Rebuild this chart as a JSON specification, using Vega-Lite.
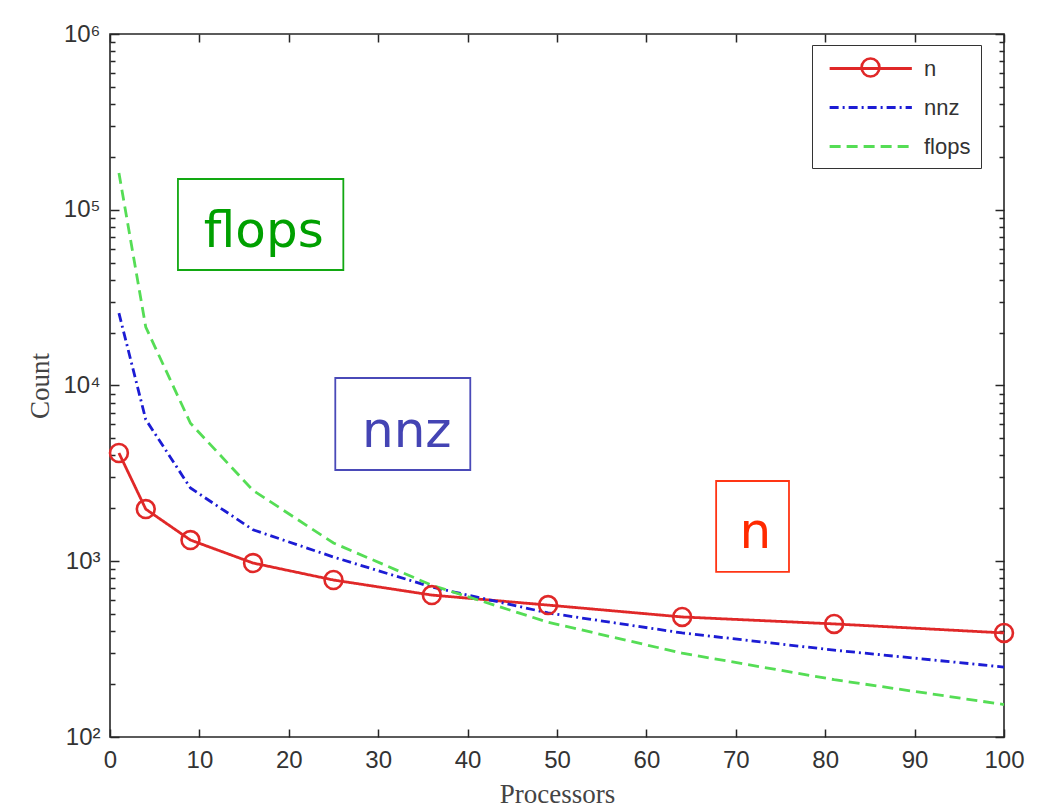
{
  "$schema": "https://vega.github.io/schema/vega-lite/v6.json",
  "width": 894,
  "height": 703,
  "autosize": {"type": "none"},
  "padding": {"left": 110, "top": 34, "right": 36, "bottom": 72},
  "background": "white",
  "config": {
    "view": {"stroke": "#262626", "strokeWidth": 1.6},
    "axis": {
      "domain": false,
      "grid": false,
      "labelFlush": false,
      "tickColor": "#262626",
      "tickWidth": 1.5,
      "labelFont": "Liberation Sans",
      "labelFontSize": 24,
      "labelColor": "#333333",
      "titleFont": "Liberation Serif",
      "titleFontSize": 27,
      "titleFontWeight": "normal",
      "titleColor": "#444444"
    }
  },
  "datasets": {
    "series": [
      {"p": 1, "series": "n", "value": 4130},
      {"p": 4, "series": "n", "value": 1980},
      {"p": 9, "series": "n", "value": 1320},
      {"p": 16, "series": "n", "value": 977},
      {"p": 25, "series": "n", "value": 782},
      {"p": 36, "series": "n", "value": 642},
      {"p": 49, "series": "n", "value": 563},
      {"p": 64, "series": "n", "value": 482},
      {"p": 81, "series": "n", "value": 440},
      {"p": 100, "series": "n", "value": 391},
      {"p": 1, "series": "nnz", "value": 25800},
      {"p": 4, "series": "nnz", "value": 6400},
      {"p": 9, "series": "nnz", "value": 2610},
      {"p": 16, "series": "nnz", "value": 1510},
      {"p": 25, "series": "nnz", "value": 1057},
      {"p": 36, "series": "nnz", "value": 713},
      {"p": 49, "series": "nnz", "value": 508},
      {"p": 64, "series": "nnz", "value": 391},
      {"p": 81, "series": "nnz", "value": 312},
      {"p": 100, "series": "nnz", "value": 250},
      {"p": 1, "series": "flops", "value": 162000},
      {"p": 4, "series": "flops", "value": 21500},
      {"p": 9, "series": "flops", "value": 6100},
      {"p": 16, "series": "flops", "value": 2530},
      {"p": 25, "series": "flops", "value": 1270},
      {"p": 36, "series": "flops", "value": 730},
      {"p": 49, "series": "flops", "value": 450},
      {"p": 64, "series": "flops", "value": 300},
      {"p": 81, "series": "flops", "value": 212},
      {"p": 100, "series": "flops", "value": 153}
    ],
    "notes": [
      {"label": "flops", "tx": 17.2, "ty": 61400, "x0": 7.6, "x1": 26.1, "y0": 45400, "y1": 149600},
      {"label": "nnz", "tx": 33.2, "ty": 4470, "x0": 25.2, "x1": 40.3, "y0": 3305, "y1": 11030},
      {"label": "n", "tx": 72.2, "ty": 1189, "x0": 67.8, "x1": 75.95, "y0": 869, "y1": 2862}
    ]
  },
  "resolve": {"axis": {"x": "independent", "y": "independent"}},
  "layer": [
    {
      "data": {"name": "notes"},
      "mark": {"type": "rect", "fillOpacity": 0, "strokeWidth": 1.8},
      "encoding": {
        "x": {"field": "x0", "type": "quantitative", "scale": {"domain": [0, 100], "nice": false, "zero": false}, "axis": null},
        "x2": {"field": "x1"},
        "y": {"field": "y0", "type": "quantitative", "scale": {"type": "log", "domain": [100, 1000000], "nice": false},
          "axis": {"orient": "left", "labels": false, "title": null, "tickSize": -5,
            "values": [200,300,400,500,600,700,800,900,2000,3000,4000,5000,6000,7000,8000,9000,20000,30000,40000,50000,60000,70000,80000,90000,200000,300000,400000,500000,600000,700000,800000,900000]}},
        "y2": {"field": "y1"},
        "stroke": {"field": "label", "type": "nominal", "scale": {"domain": ["flops", "nnz", "n"], "range": ["#12a812", "#4a4ab8", "#ff3514"]}, "legend": null}
      }
    },
    {
      "data": {"name": "notes"},
      "mark": {"type": "text", "font": "DejaVu Sans", "fontSize": 50, "align": "center", "baseline": "alphabetic"},
      "encoding": {
        "x": {"field": "tx", "type": "quantitative", "axis": null},
        "y": {"field": "ty", "type": "quantitative",
          "axis": {"orient": "right", "labels": false, "title": null, "tickSize": -5,
            "values": [200,300,400,500,600,700,800,900,2000,3000,4000,5000,6000,7000,8000,9000,20000,30000,40000,50000,60000,70000,80000,90000,200000,300000,400000,500000,600000,700000,800000,900000]}},
        "text": {"field": "label", "type": "nominal"},
        "fill": {"field": "label", "type": "nominal", "scale": {"domain": ["flops", "nnz", "n"], "range": ["#00a000", "#4444b4", "#ff2a00"]}, "legend": null}
      }
    },
    {
      "data": {"name": "series"},
      "mark": {"type": "line", "strokeWidth": 2.8},
      "encoding": {
        "x": {"field": "p", "type": "quantitative",
          "axis": {"orient": "bottom", "values": [0,10,20,30,40,50,60,70,80,90,100], "tickSize": -8, "labelPadding": 19, "title": "Processors", "titlePadding": 9}},
        "y": {"field": "value", "type": "quantitative",
          "axis": {"orient": "left", "values": [100,1000,10000,100000,1000000], "tickSize": -9, "labelPadding": 19,
            "labelExpr": "'10' + ['⁰','¹','²','³','⁴','⁵','⁶'][round(log(datum.value)/LN10)]",
            "title": "Count", "titlePadding": 8}},
        "color": {"field": "series", "type": "nominal",
          "scale": {"domain": ["n", "nnz", "flops"], "range": ["#e02828", "#1c1cd4", "#55dd55"]},
          "legend": {"title": null, "orient": "none", "legendX": 702, "legendY": 11, "padding": 10,
            "strokeColor": "#333333", "fillColor": "white", "symbolType": "M-0.5,0H6.5", "symbolSize": 552,
            "symbolStrokeWidth": 2.8, "labelOffset": 75, "rowPadding": 14, "labelFont": "Liberation Sans", "labelFontSize": 22, "labelColor": "#333333"}},
        "strokeDash": {"field": "series", "type": "nominal",
          "scale": {"domain": ["n", "nnz", "flops"], "range": [[1, 0], [9, 4, 2, 4], [11, 6]]},
          "legend": {"title": null, "orient": "none", "legendX": 702, "legendY": 11, "padding": 10,
            "strokeColor": "#333333", "fillColor": "white", "symbolType": "M-0.5,0H6.5", "symbolSize": 552,
            "symbolStrokeWidth": 2.8, "labelOffset": 75, "rowPadding": 14, "labelFont": "Liberation Sans", "labelFontSize": 22, "labelColor": "#333333"}}
      }
    },
    {
      "data": {"name": "series"},
      "transform": [{"filter": "datum.series === 'n'"}],
      "mark": {"type": "point", "filled": false, "size": 320, "strokeWidth": 2.6, "color": "#e02828", "opacity": 1},
      "encoding": {
        "x": {"field": "p", "type": "quantitative",
          "axis": {"orient": "top", "labels": false, "title": null, "tickSize": -8, "values": [0,10,20,30,40,50,60,70,80,90,100]}},
        "y": {"field": "value", "type": "quantitative",
          "axis": {"orient": "right", "labels": false, "title": null, "tickSize": -9, "values": [100,1000,10000,100000,1000000]}},
        "shape": {"field": "series", "type": "nominal", "scale": {"domain": ["n"], "range": ["circle"]},
          "legend": {"title": null, "orient": "none", "legendX": 750, "legendY": 23, "padding": 0,
            "symbolStrokeColor": "#e02828", "symbolFillColor": "transparent", "symbolStrokeWidth": 2.6, "symbolSize": 320,
            "labelOpacity": 0, "labelFontSize": 10}}
      }
    }
  ]
}
